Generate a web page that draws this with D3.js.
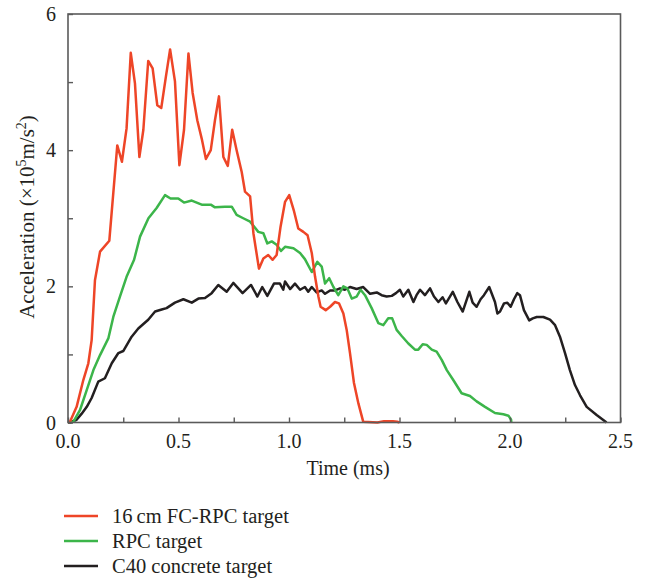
<!DOCTYPE html>
<html><head><meta charset="utf-8">
<script src="https://cdn.jsdelivr.net/npm/d3@7"></script>
<style>
body{margin:0;background:#fff;}
svg text{font-family:"Liberation Serif","DejaVu Serif",serif;fill:#231f20;}
</style></head>
<body><svg id="c" width="645" height="582"></svg>
<script>
const seriesNames = ["16\u2009cm FC-RPC target","RPC target","C40 concrete target"];
const seriesColors = ["#ee4527","#3cb54a","#231f20"];
const xTicks = [0,0.5,1.0,1.5,2.0,2.5];
const yTicks = [0,2,4,6];

const redT = [0,0.009,0.039,0.069,0.092,0.107,0.122,0.145,0.187,0.223,0.244,0.265,0.284,0.303,0.323,0.341,0.363,0.383,0.404,0.422,0.443,0.462,0.484,0.504,0.525,0.545,0.564,0.585,0.605,0.624,0.646,0.665,0.683,0.703,0.723,0.743,0.763,0.786,0.801,0.824,0.839,0.864,0.884,0.906,0.926,0.944,0.962,0.982,1.001,1.023,1.042,1.065,1.084,1.103,1.118,1.133,1.143,1.166,1.186,1.208,1.226,1.246,1.261,1.276,1.294,1.314,1.336,1.40,1.43,1.47,1.49,1.50];
const redA = [0,0.01,0.23,0.62,0.87,1.21,2.09,2.51,2.67,4.07,3.83,4.32,5.43,4.98,3.90,4.30,5.31,5.20,4.66,4.62,5.08,5.48,5.01,3.78,4.30,5.42,4.84,4.44,4.17,3.87,4.00,4.44,4.79,3.90,3.77,4.30,4.00,3.68,3.39,3.32,2.78,2.26,2.41,2.46,2.39,2.46,2.88,3.24,3.34,3.10,2.85,2.80,2.75,2.49,2.14,1.85,1.70,1.65,1.70,1.77,1.75,1.60,1.36,1.02,0.58,0.28,0.01,0,0.02,0.02,0.01,0];

const greenT = [0,0.024,0.054,0.085,0.115,0.145,0.183,0.205,0.235,0.265,0.299,0.326,0.364,0.401,0.439,0.464,0.499,0.525,0.560,0.605,0.646,0.665,0.710,0.741,0.763,0.793,0.824,0.861,0.884,0.902,0.922,0.944,0.964,0.982,1.020,1.050,1.072,1.103,1.128,1.148,1.163,1.182,1.201,1.223,1.246,1.264,1.284,1.306,1.324,1.344,1.374,1.404,1.427,1.449,1.467,1.487,1.510,1.540,1.570,1.585,1.605,1.623,1.646,1.668,1.691,1.714,1.744,1.781,1.819,1.849,1.887,1.932,1.970,1.993,2.005,2.006];
const greenA = [0,0.01,0.18,0.48,0.77,0.99,1.24,1.55,1.85,2.14,2.39,2.73,3.00,3.15,3.34,3.29,3.29,3.23,3.26,3.20,3.20,3.16,3.17,3.17,3.05,3.00,2.95,2.80,2.78,2.63,2.66,2.61,2.52,2.58,2.56,2.49,2.40,2.21,2.36,2.29,2.04,2.12,1.99,1.87,2.00,1.97,1.82,1.85,1.95,1.87,1.68,1.46,1.43,1.53,1.53,1.36,1.27,1.16,1.07,1.07,1.15,1.14,1.07,1.04,0.92,0.77,0.62,0.43,0.39,0.31,0.23,0.14,0.12,0.10,0.04,0];

const blackT = [0,0.009,0.039,0.062,0.085,0.107,0.137,0.167,0.198,0.228,0.250,0.288,0.318,0.363,0.394,0.424,0.446,0.484,0.522,0.560,0.590,0.620,0.650,0.680,0.718,0.748,0.790,0.828,0.857,0.879,0.902,0.932,0.959,0.974,0.982,1.005,1.027,1.050,1.072,1.087,1.103,1.125,1.148,1.163,1.186,1.208,1.231,1.253,1.276,1.306,1.336,1.367,1.397,1.419,1.442,1.465,1.484,1.502,1.517,1.540,1.563,1.577,1.593,1.615,1.638,1.656,1.676,1.695,1.710,1.741,1.762,1.786,1.816,1.831,1.849,1.867,1.882,1.906,1.932,1.943,1.955,1.973,1.988,2.003,2.018,2.033,2.045,2.063,2.087,2.103,2.121,2.151,2.181,2.204,2.226,2.249,2.271,2.294,2.317,2.347,2.392,2.437];
const blackA = [0,0,0.04,0.13,0.23,0.36,0.60,0.65,0.87,1.02,1.05,1.26,1.38,1.51,1.63,1.66,1.68,1.76,1.81,1.76,1.82,1.83,1.90,2.02,1.92,2.05,1.90,2.02,1.85,1.99,1.86,2.04,2.04,1.95,2.07,1.96,2.04,1.95,1.99,1.92,1.99,1.91,1.94,1.89,1.94,1.94,1.97,1.95,1.99,1.96,1.99,1.89,1.91,1.87,1.85,1.86,1.90,1.95,1.85,1.95,1.77,1.87,1.95,1.87,1.97,1.85,1.77,1.84,1.75,1.92,1.77,1.63,1.92,1.76,1.70,1.81,1.87,1.99,1.77,1.60,1.63,1.75,1.76,1.70,1.81,1.90,1.87,1.65,1.50,1.53,1.55,1.55,1.51,1.43,1.26,1.02,0.77,0.55,0.40,0.23,0.11,0];

const svg = d3.select("#c");
const L = 68, R = 620.5, T = 14, B = 422.5;
const x = d3.scaleLinear().domain([0,2.5]).range([L,R]);
const y = d3.scaleLinear().domain([0,6]).range([B,T]);

const data = [
  redT.map((t,i)=>[t,redA[i]]),
  greenT.map((t,i)=>[t,greenA[i]]),
  blackT.map((t,i)=>[t,blackA[i]])
];
const line = d3.line().x(d=>x(d[0])).y(d=>y(d[1]));
[2,1,0].forEach(i=>{
  svg.append("path").datum(data[i]).attr("d",line)
    .attr("fill","none").attr("stroke",seriesColors[i]).attr("stroke-width",2.5)
    .attr("stroke-linejoin","round");
});

const axCol = "#5a5a5a";
svg.append("rect").attr("x",L).attr("y",T).attr("width",R-L).attr("height",B-T)
  .attr("fill","none").attr("stroke",axCol).attr("stroke-width",1.6);

const xAxis = d3.axisBottom(x).tickValues(d3.range(0,2.5001,0.25)).tickSize(-5).tickFormat("");
const gx = svg.append("g").attr("transform",`translate(0,${B})`).call(xAxis);
gx.select(".domain").remove();
gx.selectAll("line").attr("stroke",axCol).attr("stroke-width",1.4);
const yAxis = d3.axisLeft(y).tickValues(d3.range(0,6.001,1)).tickSize(-5).tickFormat("");
const gy = svg.append("g").attr("transform",`translate(${L},0)`).call(yAxis);
gy.select(".domain").remove();
gy.selectAll("line").attr("stroke",axCol).attr("stroke-width",1.4);

svg.selectAll(".xl").data(xTicks).enter().append("text")
  .attr("x",d=>x(d)).attr("y",448).attr("text-anchor","middle")
  .attr("font-size",20).text(d=>d.toFixed(1));
svg.selectAll(".yl").data(yTicks).enter().append("text")
  .attr("x",56).attr("y",d=>y(d)+7).attr("text-anchor","end")
  .attr("font-size",20).text(d=>d);

svg.append("text").attr("x",348).attr("y",475).attr("text-anchor","middle")
  .attr("font-size",20).text("Time (ms)");

const yt = svg.append("text").attr("transform","translate(34,217) rotate(-90)")
  .attr("text-anchor","middle").attr("font-size",21);
yt.append("tspan").text("Acceleration (\u00d710");
yt.append("tspan").attr("font-size",14).attr("dy",-8).text("5");
yt.append("tspan").attr("dy",8).text("m/s");
yt.append("tspan").attr("font-size",14).attr("dy",-8).text("2");
yt.append("tspan").attr("dy",8).text(")");

seriesNames.forEach((n,i)=>{
  const yy = 516 + i*25;
  svg.append("line").attr("x1",64).attr("x2",98).attr("y1",yy).attr("y2",yy)
    .attr("stroke",seriesColors[i]).attr("stroke-width",2.5);
  svg.append("text").attr("x",112).attr("y",yy+7).attr("font-size",20.5).text(n);
});
</script></body></html>
